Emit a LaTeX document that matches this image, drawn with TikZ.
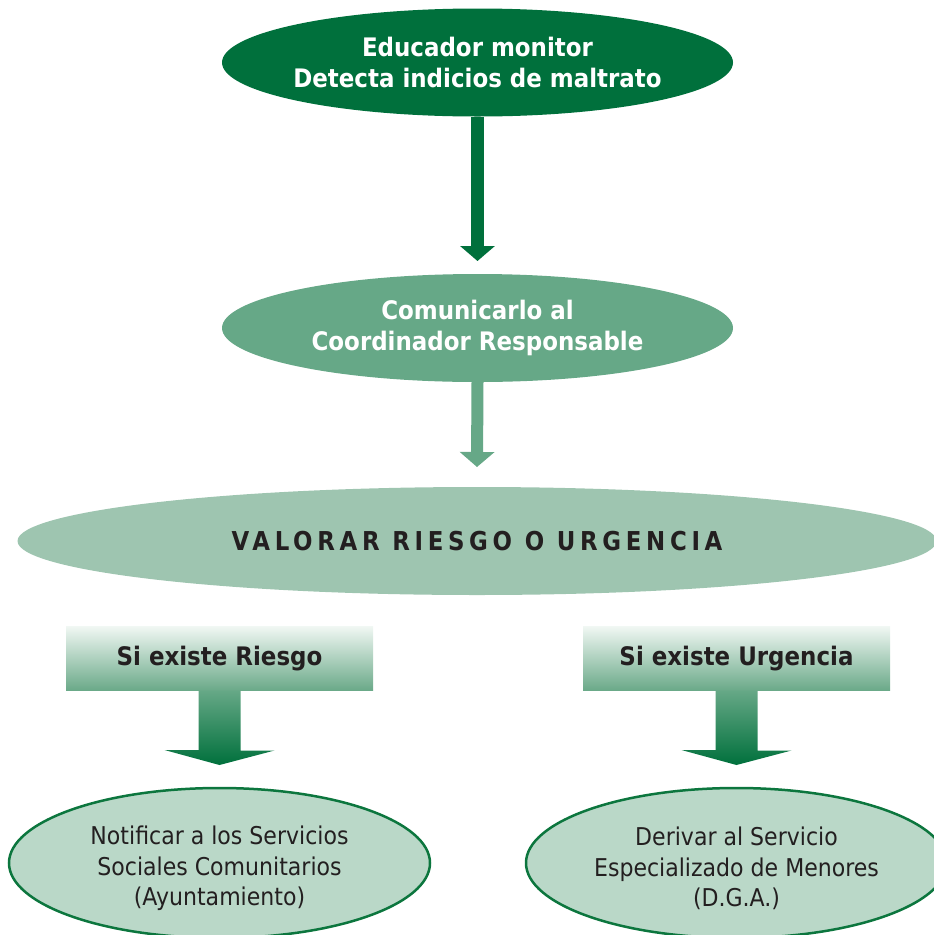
\documentclass[tikz,border=0pt]{standalone}
\usepackage{fontspec}
\setmainfont{DejaVu Sans}[FakeStretch=0.9]
\newfontfamily\spacedfont{DejaVu Sans}[FakeStretch=0.88,LetterSpace=18]
\usetikzlibrary{shapes.geometric,arrows.meta}

\definecolor{darkgreen}{RGB}{0,112,60}
\definecolor{midgreen}{RGB}{102,168,135}
\definecolor{lightgreen}{RGB}{158,197,176}
\definecolor{palegreen}{RGB}{186,216,200}
\definecolor{rimgreen}{RGB}{12,118,62}
\definecolor{boxtop}{RGB}{240,247,243}
\definecolor{boxbottom}{RGB}{106,169,136}
\definecolor{inkdark}{RGB}{35,31,32}

\tikzset{
  oval/.style={ellipse, inner sep=0pt, outer sep=0pt, align=center},
  bigoval/.style={oval, inner xsep=-20pt, minimum width=511pt, minimum height=108pt,
    text=white, font=\bfseries\fontsize{25.5}{31}\selectfont},
  endoval/.style={oval, fill=palegreen, draw=rimgreen, line width=2.5pt,
    minimum width=421pt, minimum height=150pt},
  endtext/.style={align=center, inner sep=0pt, text=inkdark,
    font=\fontsize{24.5}{30.5}\selectfont},
  casebox/.style={rectangle, inner sep=0pt, outer sep=0pt, minimum width=307pt,
    minimum height=64pt, top color=boxtop, bottom color=boxbottom, text=inkdark,
    font=\bfseries\fontsize{25.5}{30}\selectfont},
  blockarrow/.style={line width=#1, -{Triangle[width=34pt,length=15pt]}}
}

\begin{document}
\begin{tikzpicture}[x=1pt,y=-1pt]
  %%%%% START %%%%%
  \useasboundingbox (0,0) rectangle (934,935);

  \node[bigoval, fill=darkgreen] (educador) at (477.5,62.5)
    {Educador monitor\\Detecta indicios de maltrato};
  \node[bigoval, fill=midgreen] (comunicar) at (477.5,328)
    {Comunicarlo al\\Coordinador Responsable};
  \node[oval, fill=lightgreen, minimum width=919pt, minimum height=108pt,
    text=inkdark, font=\spacedfont\bfseries\fontsize{26}{30}\selectfont]
    (valorar) at (477,541) {VALORAR RIESGO O URGENCIA};

  \draw[darkgreen, blockarrow=13pt] (educador.south) -- ([yshift=13pt]comunicar.north);
  \draw[midgreen, blockarrow=12pt] (comunicar.south) -- ([yshift=20pt]valorar.north);

  % los dos casos
  \node[casebox] (riesgo) at (219.5,658.5) {Si existe Riesgo};
  \node[casebox] (urgencia) at (736.5,658.5) {Si existe Urgencia};

  \node[endoval] (notificar) at (219.5,863) {};
  \node[endtext] (notificartxt) at ([yshift=-5.5pt]notificar.center)
    {Notificar a los Servicios\\Sociales Comunitarios\\(Ayuntamiento)};
  \node[endoval] (derivar) at (736.5,863) {};
  \node[endtext] (derivartxt) at ([yshift=-5.5pt]derivar.center)
    {Derivar al Servicio\\Especializado de Menores\\(D.G.A.)};

  \shade[top color=midgreen, bottom color=darkgreen]
    ([xshift=-21pt]riesgo.south) -- ([xshift=21pt]riesgo.south) -- ++(0,60)
    -- ++(34,0) -- ([yshift=23pt]notificar.north) -- ++(-55,-15) -- ++(34,0) -- cycle;
  \shade[top color=midgreen, bottom color=darkgreen]
    ([xshift=-21pt]urgencia.south) -- ([xshift=21pt]urgencia.south) -- ++(0,60)
    -- ++(34,0) -- ([yshift=23pt]derivar.north) -- ++(-55,-15) -- ++(34,0) -- cycle;

  %%%%% END %%%%%
\end{tikzpicture}
\end{document}
